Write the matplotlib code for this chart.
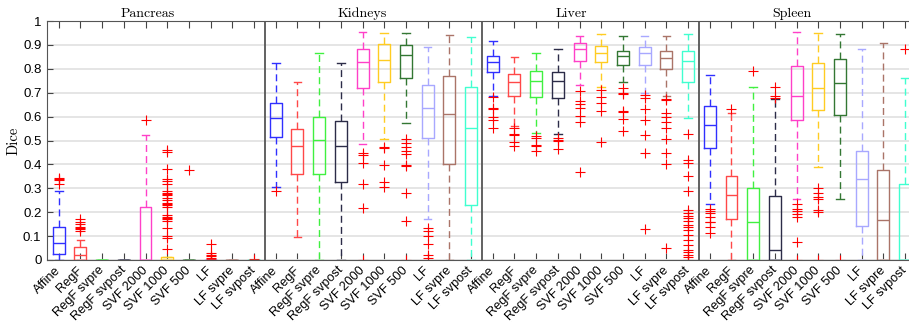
import matplotlib

matplotlib.use("Agg")
import matplotlib.pyplot as plt

methods = ["Affine", "RegF", "RegF svpre", "RegF svpost", "SVF 2000",
           "SVF 1000", "SVF 500", "LF", "LF svpre", "LF svpost"]
organs = ["Pancreas", "Kidneys", "Liver", "Spleen"]
title_pos = [5.1, 15.0, 24.6, 34.8]
colors = ["#3030ff", "#ff4848", "#40f040", "#2c2c48", "#ff40c8",
          "#ffcc22", "#337733", "#a8a8ff", "#aa7468", "#40ffd0"]

# (whisker low, q1, median, q3, whisker high) for each method
pancreas = [
    (0.0, 0.025, 0.072, 0.14, 0.29),
    (0.0, 0.0, 0.022, 0.053, 0.085),
    (0.0, 0.0, 0.0, 0.0, 0.0),
    (0.0, 0.0, 0.0, 0.0, 0.0),
    (0.0, 0.0, 0.0, 0.22, 0.525),
    (0.0, 0.0, 0.0, 0.012, 0.012),
    (0.0, 0.0, 0.0, 0.0, 0.0),
    (0.0, 0.0, 0.0, 0.002, 0.002),
    (0.0, 0.0, 0.0, 0.0, 0.0),
    (0.0, 0.0, 0.0, 0.0, 0.0),
]
pancreas_fliers = [
    [0.32, 0.335, 0.34, 0.345],
    [0.12, 0.13, 0.135, 0.14, 0.15, 0.16, 0.17],
    [],
    [],
    [0.585],
    [0.045, 0.09, 0.1, 0.135, 0.165, 0.17, 0.175, 0.18, 0.19, 0.22, 0.23,
     0.235, 0.24, 0.25, 0.26, 0.27, 0.275, 0.28, 0.29, 0.32, 0.33, 0.34,
     0.38, 0.45, 0.46],
    [0.375],
    [0.005, 0.01, 0.015, 0.02, 0.03, 0.065],
    [],
    [0.003],
]

kidneys = [
    (0.307, 0.515, 0.593, 0.656, 0.823),
    (0.095, 0.361, 0.478, 0.547, 0.746),
    (0.0, 0.358, 0.502, 0.598, 0.865),
    (0.0, 0.325, 0.477, 0.580, 0.823),
    (0.484, 0.721, 0.827, 0.884, 0.954),
    (0.505, 0.743, 0.837, 0.902, 0.948),
    (0.575, 0.763, 0.856, 0.900, 0.948),
    (0.172, 0.509, 0.635, 0.732, 0.893),
    (0.0, 0.402, 0.611, 0.770, 0.941),
    (0.0, 0.229, 0.551, 0.723, 0.934),
]
kidneys_fliers = [
    [0.289],
    [],
    [],
    [],
    [0.446, 0.44, 0.404, 0.319, 0.216, 0.0],
    [0.473, 0.467, 0.397, 0.325, 0.304],
    [0.506, 0.491, 0.474, 0.458, 0.444, 0.397, 0.394, 0.282, 0.165, 0.0],
    [0.133, 0.122, 0.1, 0.066, 0.021, 0.01],
    [],
    [],
]

liver = [
    (0.688, 0.788, 0.827, 0.854, 0.916),
    (0.561, 0.688, 0.743, 0.778, 0.851),
    (0.530, 0.683, 0.749, 0.791, 0.865),
    (0.526, 0.679, 0.750, 0.788, 0.883),
    (0.734, 0.834, 0.883, 0.908, 0.937),
    (0.725, 0.827, 0.866, 0.894, 0.944),
    (0.743, 0.815, 0.854, 0.874, 0.937),
    (0.697, 0.815, 0.866, 0.893, 0.936),
    (0.686, 0.799, 0.845, 0.876, 0.939),
    (0.593, 0.745, 0.833, 0.876, 0.944),
]
liver_fliers = [
    [0.683, 0.635, 0.63, 0.597, 0.586, 0.551],
    [0.551, 0.526, 0.521, 0.492, 0.477],
    [0.52, 0.51, 0.483, 0.477, 0.457],
    [0.509, 0.502, 0.498, 0.463],
    [0.708, 0.667, 0.652, 0.638, 0.604, 0.577, 0.367],
    [0.71, 0.683, 0.656, 0.623, 0.495],
    [0.72, 0.70, 0.693, 0.623, 0.618, 0.589, 0.54],
    [0.69, 0.676, 0.63, 0.586, 0.522, 0.449, 0.128],
    [0.674, 0.671, 0.614, 0.597, 0.579, 0.554, 0.505, 0.446, 0.402, 0.049],
    [0.527, 0.418, 0.404, 0.353, 0.289, 0.209, 0.198, 0.184, 0.175, 0.163,
     0.145, 0.14, 0.126, 0.105, 0.084, 0.063, 0.042, 0.035, 0.021, 0.011,
     0.0],
]

spleen = [
    (0.236, 0.470, 0.563, 0.644, 0.774),
    (0.0, 0.170, 0.271, 0.350, 0.614),
    (0.0, 0.0, 0.158, 0.303, 0.723),
    (0.0, 0.0, 0.042, 0.269, 0.675),
    (0.254, 0.584, 0.688, 0.813, 0.955),
    (0.388, 0.626, 0.721, 0.823, 0.948),
    (0.255, 0.605, 0.741, 0.841, 0.947),
    (0.0, 0.142, 0.340, 0.456, 0.883),
    (0.0, 0.0, 0.167, 0.378, 0.907),
    (0.0, 0.0, 0.0, 0.317, 0.760),
]
spleen_fliers = [
    [0.212, 0.205, 0.195, 0.181, 0.160, 0.158, 0.139, 0.112],
    [0.632],
    [0.79],
    [0.723, 0.686, 0.679],
    [0.236, 0.212, 0.205, 0.191, 0.181, 0.074, 0.0],
    [0.300, 0.279, 0.262, 0.257, 0.209, 0.199, 0.0],
    [0.0],
    [],
    [],
    [0.881],
]

groups = [(pancreas, pancreas_fliers), (kidneys, kidneys_fliers),
          (liver, liver_fliers), (spleen, spleen_fliers)]

stats = []
box_colors = []
labels = []
for values, fliers in groups:
    for (lo, q1, med, q3, hi), fl, c, name in zip(values, fliers, colors, methods):
        stats.append({"whislo": lo, "q1": q1, "med": med, "q3": q3,
                      "whishi": hi, "fliers": fl})
        box_colors.append(c)
        labels.append(name)

fig = plt.figure(figsize=(9.09, 3.22), dpi=100)
ax = fig.add_axes([47 / 909, 62 / 322, 862 / 909, 239 / 322])

positions = list(range(1, len(stats) + 1))
art = ax.bxp(stats, positions=positions, widths=0.55, capwidths=0.35,
             flierprops=dict(marker="+", markeredgecolor="red",
                             markersize=6.5, markeredgewidth=0.8))
for i, c in enumerate(box_colors):
    art["boxes"][i].set(color=c, linewidth=1.0)
    art["medians"][i].set(color=c, linewidth=1.0)
    for j in (2 * i, 2 * i + 1):
        art["whiskers"][j].set(color=c, linewidth=1.0, linestyle=(0, (5, 3)))
        art["caps"][j].set(color=c, linewidth=1.0)

for x in (10.5, 20.5, 30.5):
    ax.axvline(x, color="#555555", linewidth=1.3, zorder=3)

for name, xp in zip(organs, title_pos):
    ax.text(xp, 1.005, name, ha="center", va="bottom", fontsize=10,
            family="cmr10", transform=ax.transData, clip_on=False)

ax.set_xlim(0.46, 40.18)
ax.set_ylim(0, 1)
yt = [i / 10 for i in range(11)]
ax.set_yticks(yt)
ax.set_yticklabels(["0"] + [f"{v:.1f}" for v in yt[1:-1]] + ["1"],
                   fontsize=9.5, family="Liberation Sans")
ax.set_xticks(positions)
ax.set_xticklabels(labels, rotation=45, ha="right", va="center",
                   rotation_mode="anchor", fontsize=9.2, family="Liberation Sans")
ax.tick_params(axis="x", direction="in", length=5, top=True, color="#444444", pad=6)
ax.tick_params(axis="y", direction="in", length=4, color="#444444", pad=4)
ax.yaxis.grid(True, color="#e3e3e3", linewidth=1.3)
ax.set_axisbelow(True)
ax.spines["right"].set_visible(False)
for s in ("left", "top", "bottom"):
    ax.spines[s].set_color("#555555")
ax.set_ylabel("Dice", family="cmr10", fontsize=10.5, labelpad=2)

fig.savefig("out.png", dpi=100)
